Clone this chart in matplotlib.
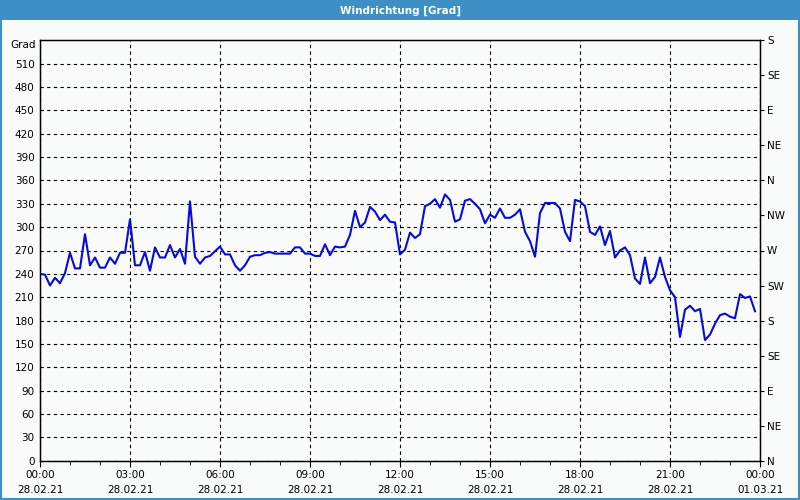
import pandas as pd
import matplotlib
matplotlib.use("Agg")
import matplotlib.pyplot as plt
import matplotlib.dates as mdates
from matplotlib.patches import Rectangle

# Windrichtung in Grad, alle 10 Minuten ab 28.02.21 00:00
direction = [
    240, 239, 225, 235, 228, 241, 267, 247, 247, 291, 251, 261,
    248, 248, 261, 253, 267, 267, 310, 251, 251, 268, 244, 274,
    261, 261, 277, 261, 272, 253, 333, 262, 253, 261, 263, 269,
    275, 265, 265, 251, 244, 251, 262, 264, 264, 267, 268, 266,
    266, 266, 266, 274, 274, 266, 266, 263, 263, 278, 264, 275,
    274, 275, 290, 321, 300, 306, 326, 320, 309, 316, 307, 306,
    265, 271, 293, 286, 291, 327, 330, 336, 325, 342, 335, 307,
    310, 334, 336, 330, 323, 305, 316, 312, 324, 312, 312, 316,
    323, 294, 282, 262, 318, 331, 331, 331, 324, 294, 282, 335,
    333, 327, 294, 290, 301, 277, 295, 261, 270, 274, 264, 234,
    227, 261, 228, 236, 261, 236, 219, 210, 159, 194, 199, 192,
    195, 155, 162, 176, 187, 189, 185, 183, 214, 209, 211, 192,
]
times = pd.date_range("2021-02-28 00:00", periods=len(direction), freq="10min")

left_ticks = list(range(0, 511, 30))
right_ticks = list(range(0, 541, 45))
right_labels = ["N", "NE", "E", "SE", "S", "SW", "W", "NW", "N", "NE", "E", "SE", "S"]

bg = "#f8fbf9"
bar = "#3d8fc6"
plt.rcParams["font.family"] = "DejaVu Sans"
plt.rcParams["font.size"] = 7.5

fig = plt.figure(figsize=(8, 5), dpi=100, facecolor=bg)
fig.patches.append(Rectangle((0, 1 - 20 / 500), 1, 20 / 500, transform=fig.transFigure,
                             facecolor=bar, edgecolor="none", zorder=0))
fig.patches.append(Rectangle((0.0008, 0.0012), 0.9984, 0.997, transform=fig.transFigure,
                             facecolor="none", edgecolor=bar, linewidth=1.5, zorder=0))
fig.text(0.5, 1 - 10.5 / 500, "Windrichtung [Grad]", color="white", fontweight="bold",
         fontsize=7.5, ha="center", va="center")
fig.text(36 / 800, 1 - 45 / 500, "Grad", ha="right", va="center")

ax = fig.add_axes([40 / 800, 1 - 460.7 / 500, 720 / 800, 420.4 / 500])
ax.set_facecolor(bg)
ax.plot(times, direction, color="#0a0ad8", linewidth=1.5, zorder=3)

ax.set_ylim(0, 540)
ax.set_xlim(pd.Timestamp("2021-02-28 00:00"), pd.Timestamp("2021-03-01 00:00"))
ax.set_yticks(left_ticks)
ax.xaxis.set_major_locator(mdates.HourLocator(byhour=range(0, 24, 3)))
ax.xaxis.set_minor_locator(mdates.HourLocator())
ax.xaxis.set_major_formatter(mdates.DateFormatter("%H:%M\n%d.%m.%y"))
for lab in ax.get_xticklabels():
    lab.set_linespacing(1.55)
ax.tick_params(axis="y", length=0, pad=4)
ax.tick_params(axis="x", which="major", length=4, pad=3)
ax.tick_params(axis="x", which="minor", length=3)
ax.grid(True, which="major", color="black", linestyle=(0, (3, 3)), linewidth=0.8)
for s in ax.spines.values():
    s.set_color("black")
    s.set_linewidth(1)

ax2 = ax.twinx()
ax2.set_ylim(0, 540)
ax2.set_yticks(right_ticks)
ax2.set_yticklabels(right_labels)
ax2.tick_params(axis="y", length=3, pad=2)

fig.savefig("out.png", dpi=100, facecolor=bg)
